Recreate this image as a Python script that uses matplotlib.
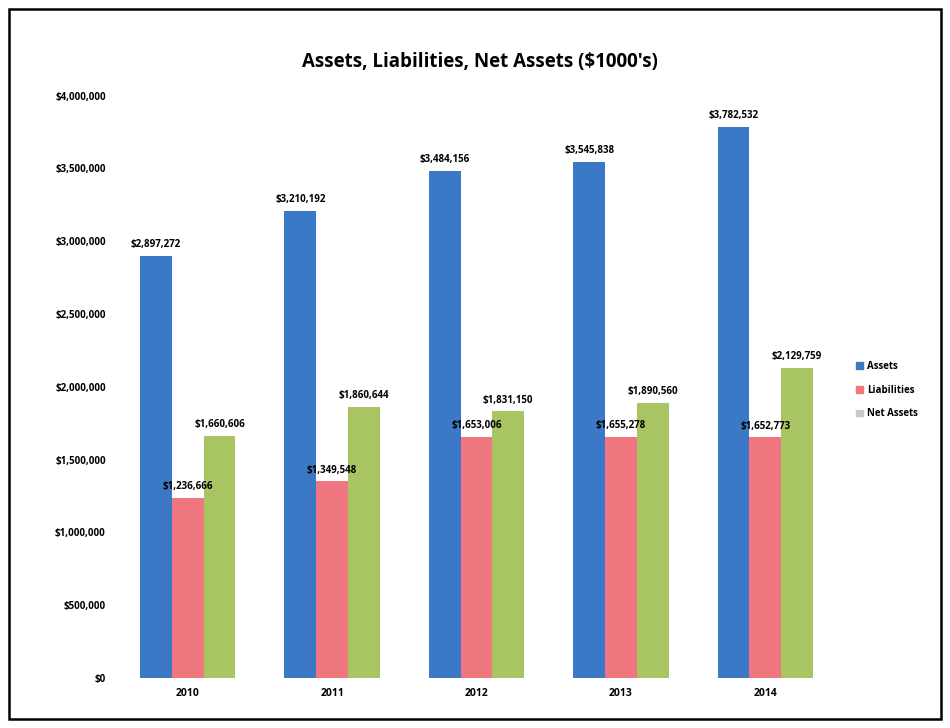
import numpy as np
import matplotlib
matplotlib.use('Agg')
import matplotlib.pyplot as plt
from matplotlib.patches import Rectangle, Patch

years = ['2010', '2011', '2012', '2013', '2014']
assets = [2897272, 3210192, 3484156, 3545838, 3782532]
liabilities = [1236666, 1349548, 1653006, 1655278, 1652773]
net_assets = [1660606, 1860644, 1831150, 1890560, 2129759]
y_ticks = [0, 500000, 1000000, 1500000, 2000000, 2500000, 3000000, 3500000, 4000000]

plt.rcParams['font.family'] = ['Open Sans', 'DejaVu Sans']

blue = '#3b78c6'
pink = '#f07680'
green = '#a8c463'

fig = plt.figure(figsize=(9.5, 7.28), dpi=100)
ax = fig.add_axes([0.1216, 0.0687, 0.760, 0.80])

x = np.arange(len(years))
w = 0.22
series = [(assets, blue, -w), (liabilities, pink, 0), (net_assets, green, w)]
for vals, col, off in series:
    bars = ax.bar(x + off, vals, width=w, color=col, edgecolor='none')
    for b, v in zip(bars, vals):
        ax.text(b.get_x() + b.get_width() / 2, v + 40000, '${:,}'.format(v),
                ha='center', va='bottom', fontsize=7, fontweight='bold')

ax.set_xlim(-0.5, len(years) - 0.5)
ax.set_ylim(0, 4000000)
ax.set_yticks(y_ticks)
ax.set_yticklabels(['${:,}'.format(t) for t in y_ticks], fontsize=7, fontweight='bold')
ax.set_xticks(x)
ax.set_xticklabels(years, fontsize=7.5, fontweight='bold')
ax.tick_params(length=0, pad=7)
for s in ax.spines.values():
    s.set_visible(False)

fig.text(0.505, 0.915, "Assets, Liabilities, Net Assets ($1000's)",
         ha='center', va='center', fontsize=13.5, fontweight='bold')

handles = [Patch(color=blue, label='Assets'),
           Patch(color=pink, label='Liabilities'),
           Patch(color='#c8c8c8', label='Net Assets')]
fig.legend(handles=handles, loc='center left', bbox_to_anchor=(0.892, 0.464),
           frameon=False, prop={'size': 7, 'weight': 'bold'},
           handlelength=0.7, handleheight=0.7, labelspacing=1.3, handletextpad=0.4)

fig.patches.append(Rectangle((0.009, 0.012), 0.982, 0.975, transform=fig.transFigure,
                             fill=False, edgecolor='black', linewidth=1.8))

fig.savefig('out.png', dpi=100)
